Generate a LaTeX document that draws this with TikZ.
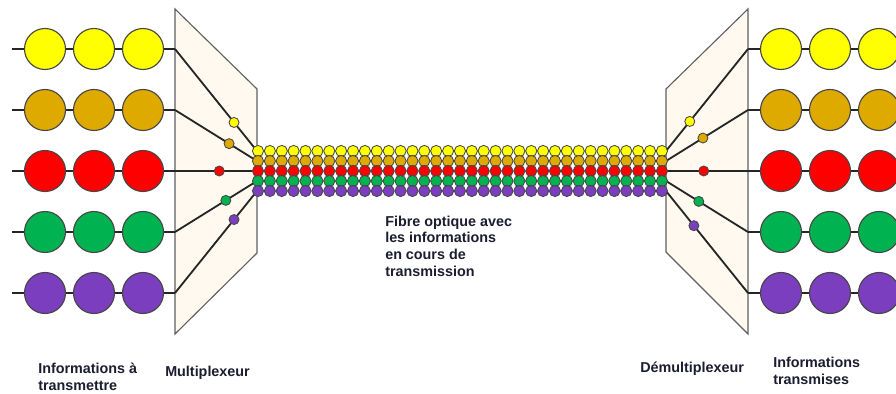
\documentclass[tikz,border=0pt]{standalone}
\usepackage{fontspec}
\setmainfont{Liberation Sans}
\definecolor{jaune}{RGB}{255,255,0}
\definecolor{ocre}{RGB}{222,170,0}
\definecolor{rouge}{RGB}{255,0,0}
\definecolor{vert}{RGB}{0,178,80}
\definecolor{violet}{RGB}{122,62,190}
\definecolor{panel}{RGB}{255,249,240}
\definecolor{beadline}{RGB}{70,70,70}
\definecolor{ink}{RGB}{28,28,48}
\begin{document}
\begin{tikzpicture}[x=0.025cm,y=-0.025cm,
  bead/.style={circle,draw=beadline,line width=0.8pt,minimum size=1.025cm,inner sep=0},
  grain/.style={circle,draw=beadline,line width=0.6pt,minimum size=0.28cm,inner sep=0},
  pixel/.style={circle,draw=beadline,line width=0.6pt,minimum size=0.25cm,inner sep=0},
  fil/.style={draw=black!85,line width=1.3pt},
  panneau/.style={fill=panel,draw=gray!75!black,line width=0.8pt},
  legende/.style={font=\bfseries\fontsize{10.2}{11.8}\selectfont,text=ink,align=left,inner sep=0}]

\useasboundingbox (0,0) rectangle (896,394);
\clip (0,0) rectangle (896,394);

% multiplexeur et demultiplexeur
\draw[panneau] (175,9) -- (257,89) -- (257,253) -- (175,334) -- cycle;
\draw[panneau] (748,9) -- (666,89) -- (666,252) -- (748,334) -- cycle;

\foreach \c/\p/\q [count=\i] in {jaune/0.72/0.71,ocre/0.66/0.55,rouge/0.54/0.54,vert/0.62/0.60,violet/0.72/0.66} {
  \pgfmathsetmacro{\y}{49+61*(\i-1)}
  \pgfmathsetmacro{\f}{151+10*(\i-1)}
  \coordinate (in\i) at (12,\y);
  \coordinate (mux\i) at (175,\y);
  \coordinate (fin\i) at (257,\f);
  \coordinate (fout\i) at (666,\f);
  \coordinate (dmx\i) at (748,\y);
  \coordinate (out\i) at (900,\y);
  % informations a transmettre
  \foreach \x [count=\k] in {45,94,143}
    \node[bead,fill=\c] (e\i\k) at (\x,\y) {};
  \draw[fil] (in\i) -- (e\i1) -- (e\i2) -- (e\i3) -- (mux\i);
  % informations transmises
  \foreach \x [count=\k] in {781,830,879}
    \node[bead,fill=\c] (s\i\k) at (\x,\y) {};
  \draw[fil] (dmx\i) -- (s\i1) -- (s\i2) -- (s\i3) -- (out\i);
  % aiguillage
  \draw[fil] (mux\i) -- node[pixel,fill=\c,pos=\p] (m\i) {} (fin\i);
  \draw[fil] (dmx\i) -- node[pixel,fill=\c,pos=\q] (d\i) {} (fout\i);
}

% fibre optique
\foreach \c [count=\i] in {jaune,ocre,rouge,vert,violet} {
  \pgfmathsetmacro{\f}{151+10*(\i-1)}
  \foreach \k in {0,...,34}
    \node[grain,fill=\c] (g\i-\k) at ({258+11.88*\k},\f) {};
}

\node[legende,anchor=west] (src) at (38,377) {Informations à\\transmettre};
\node[legende,anchor=west] (lblmux) at (165,373) {Multiplexeur};
\node[legende,anchor=west] (fibre) at (385,246) {Fibre optique avec\\les informations\\en cours de\\transmission};
\node[legende,anchor=west] (lbldemux) at (640,369) {Démultiplexeur};
\node[legende,anchor=west] (dst) at (773,371) {Informations\\transmises};
\end{tikzpicture}
\end{document}
